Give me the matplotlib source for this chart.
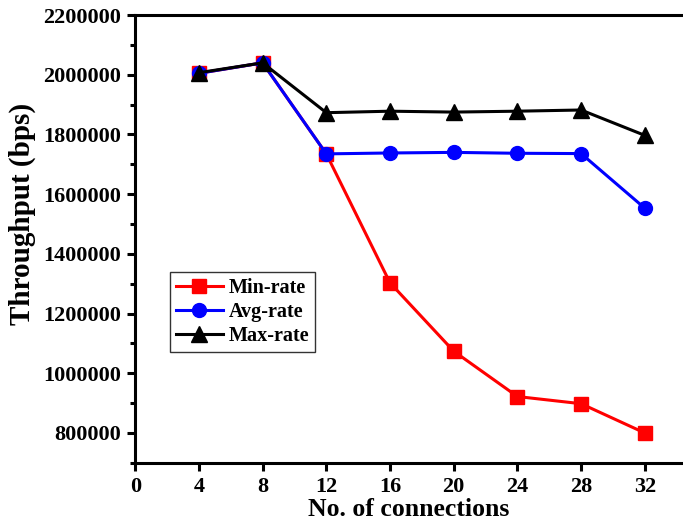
import matplotlib.pyplot as plt
from matplotlib.ticker import MultipleLocator, FormatStrFormatter

connections = [4, 8, 12, 16, 20, 24, 28, 32]
min_rate = [2005000, 2040000, 1735000, 1303000, 1074000, 922000, 898000, 800000]
avg_rate = [2005000, 2040000, 1735000, 1738000, 1740000, 1737000, 1736000, 1553000]
max_rate = [2007000, 2040000, 1873000, 1878000, 1875000, 1878000, 1882000, 1797000]

plt.rcParams['font.family'] = 'Liberation Serif'
plt.rcParams['font.weight'] = 'bold'


def main():
    fig = plt.figure(figsize=(6.83, 5.2), dpi=100)
    ax = fig.add_axes([0.198, 0.11, 0.802, 0.861])

    ax.plot(connections, min_rate, color='red', lw=2.2, marker='s', ms=10, label='Min-rate')
    ax.plot(connections, avg_rate, color='blue', lw=2.2, marker='o', ms=10, label='Avg-rate')
    ax.plot(connections, max_rate, color='black', lw=2.2, marker='^', ms=11, label='Max-rate')

    ax.set_xlim(0, 34.4)
    ax.xaxis.set_major_locator(MultipleLocator(4))
    ax.yaxis.set_major_locator(MultipleLocator(200000))
    ax.yaxis.set_minor_locator(MultipleLocator(100000))
    ax.yaxis.set_major_formatter(FormatStrFormatter('%d'))
    ax.set_ylim(700000, 2200000)

    for side in ['left', 'bottom', 'top']:
        ax.spines[side].set_linewidth(2.2)
    ax.spines['right'].set_visible(False)
    ax.tick_params(axis='both', which='major', direction='out', length=6, width=2.2,
                   labelsize=16, pad=4)
    ax.tick_params(axis='y', which='minor', direction='out', length=3.5, width=2.2)

    ax.set_xlabel('No. of connections', fontsize=18.5, fontweight='bold', labelpad=1)
    ax.set_ylabel('Throughput (bps)', fontsize=21, fontweight='bold')
    ax.yaxis.set_label_coords(-0.182, 0.555)

    leg = ax.legend(loc='upper left', bbox_to_anchor=(0.064, 0.426), fontsize=14.5,
                    frameon=True, fancybox=False, edgecolor='black', handlelength=2.3,
                    borderpad=0.3, labelspacing=0.2, handletextpad=0.3, borderaxespad=0)
    leg.get_frame().set_linewidth(1.0)

    fig.savefig('out.png', dpi=100)


if __name__ == '__main__':
    main()
